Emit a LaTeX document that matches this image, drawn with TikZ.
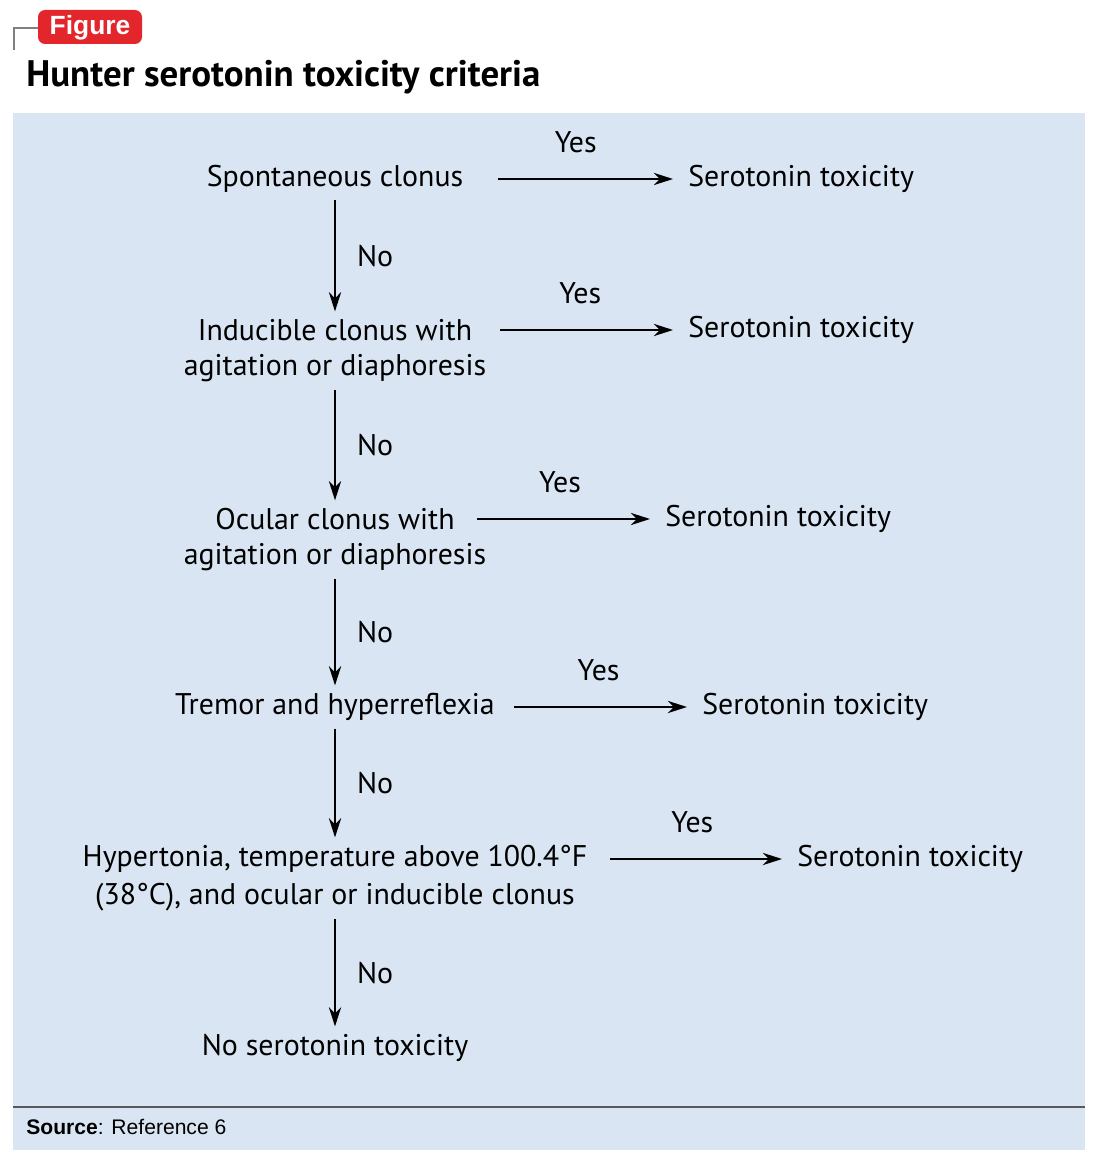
\documentclass[tikz,border=0pt]{standalone}
\usepackage{fontspec}
\setmainfont{PT Sans}
\newfontfamily\srcfont{Liberation Sans}
\usetikzlibrary{arrows.meta}
\definecolor{panel}{HTML}{D9E5F2}
\definecolor{badge}{HTML}{E3262B}
\begin{document}
\begin{tikzpicture}[x=0.02cm,y=-0.02cm,
	txt/.style={inner sep=0pt,font=\fontsize{17}{20}\selectfont},
	lbl/.style={inner sep=0pt,font=\fontsize{17}{20}\selectfont},
	arr/.style={-{Stealth[length=11pt,width=7pt]},line width=1.2pt},
	yes/.style={arr,shorten <=0.45cm,shorten >=0.3cm},
	no/.style={arr,shorten <=0.15cm,shorten >=0.15cm}]
	\useasboundingbox (0,0) rectangle (1100,1166);
	\fill[panel] (13,113) rectangle (1085,1150);
	\draw[gray!70!black,line width=0.8pt] (13,1107) -- (1085,1107);
	\draw[gray,line width=1.5pt] (14,50) -- (14,28) -- (40,28);
	\fill[badge,rounded corners=4pt] (38,10) rectangle (142,44);
	\node[text=white,font=\srcfont\bfseries\fontsize{15}{18}\selectfont] (badge) at (90,28) {Figure};
	\node[anchor=west,inner sep=0pt,font=\bfseries\fontsize{21}{25}\selectfont] (title) at (26,77) {Hunter serotonin toxicity criteria};
	\node[anchor=west,inner sep=0pt,font=\srcfont\fontsize{12}{14}\selectfont] (src) at (26,1127) {\textbf{Source}: Reference 6};
	% questions
	\node[txt] (q1) at (335,179) {Spontaneous clonus};
	\node[txt] (q2) at (335,330) {Inducible clonus with};
	\node[txt] (q2b) at (335,368) {agitation or diaphoresis};
	\node[txt] (q3) at (335,519) {Ocular clonus with};
	\node[txt] (q3b) at (335,557) {agitation or diaphoresis};
	\node[txt] (q4) at (335,707) {Tremor and hyperreflexia};
	\node[txt] (q5) at (335,859) {Hypertonia, temperature above 100.4°F};
	\node[txt] (q5b) at (335,897) {(38°C), and ocular or inducible clonus};
	\node[txt] (end) at (335,1048) {No serotonin toxicity};
	% outcomes
	\node[txt,anchor=west] (t1) at (688,179) {Serotonin toxicity};
	\node[txt,anchor=west] (t2) at (688,330) {Serotonin toxicity};
	\node[txt,anchor=west] (t3) at (665,519) {Serotonin toxicity};
	\node[txt,anchor=west] (t4) at (702,707) {Serotonin toxicity};
	\node[txt,anchor=west] (t5) at (797,859) {Serotonin toxicity};
	% yes
	\draw[yes,shorten <=0.68cm] (q1) -- (t1) node[lbl,midway,above=14pt] {Yes};
	\draw[yes,shorten <=0.56cm] (q2) -- (t2) node[lbl,midway,above=14pt] {Yes};
	\draw[yes] (q3) -- (t3) node[lbl,midway,above=14pt] {Yes};
	\draw[yes,shorten <=0.38cm] (q4) -- (t4) node[lbl,midway,above=14pt] {Yes};
	\draw[yes] (q5) -- (t5) node[lbl,midway,above=14pt] {Yes};
	% no
	\draw[no] (q1) -- (q2) node[lbl,midway,right=12pt] {No};
	\draw[no] (q2b) -- (q3) node[lbl,midway,right=12pt] {No};
	\draw[no] (q3b) -- (q4) node[lbl,midway,right=12pt] {No};
	\draw[no] (q4) -- (q5) node[lbl,midway,right=12pt] {No};
	\draw[no] (q5b) -- (end) node[lbl,midway,right=12pt] {No};
\end{tikzpicture}
\end{document}
